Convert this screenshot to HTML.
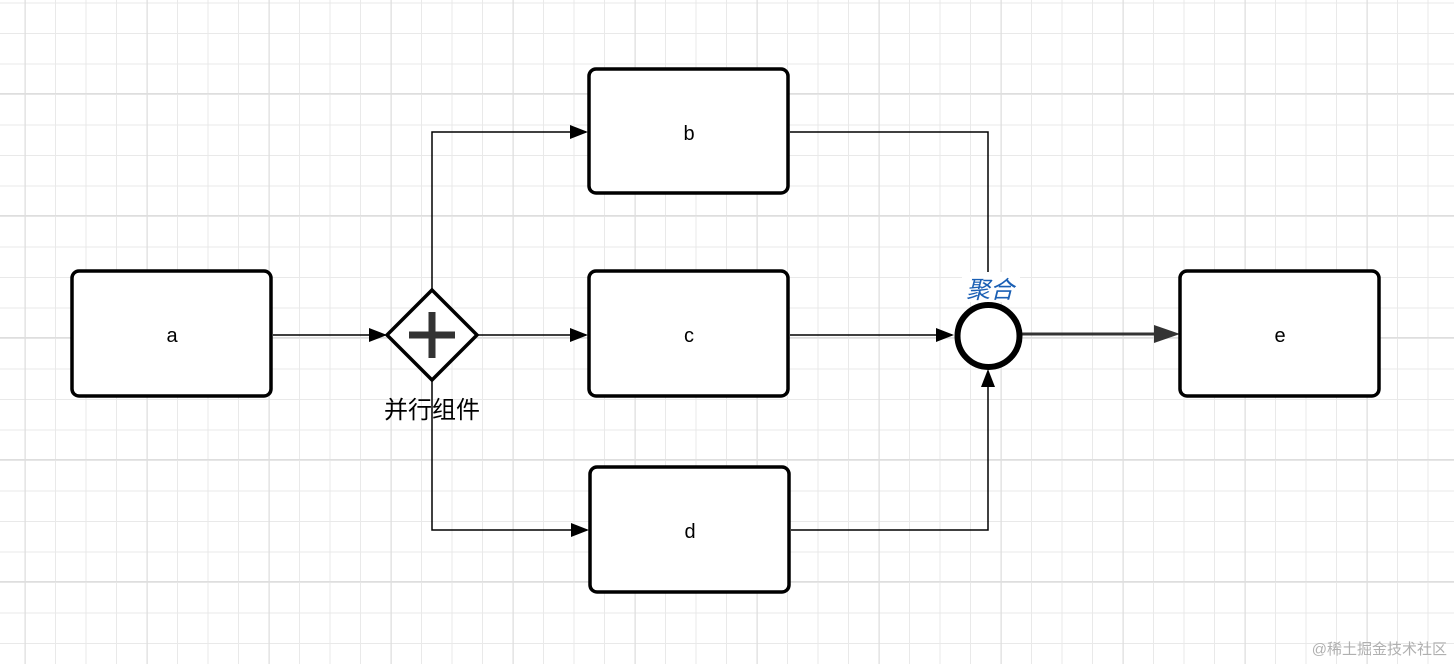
<!DOCTYPE html>
<html><head><meta charset="utf-8"><style>
body{margin:0;width:1454px;height:664px;overflow:hidden;background:#fff;}
svg{display:block}
text{font-family:"Liberation Sans","Noto Sans CJK SC",sans-serif;}
</style></head><body>
<svg width="1454" height="664" viewBox="0 0 1454 664" xmlns="http://www.w3.org/2000/svg">
<defs>
<pattern id="minor" x="24.5" y="2.5" width="30.5" height="30.5" patternUnits="userSpaceOnUse">
<path d="M0 0V30.5M0 0H30.5" stroke="#e9e9e9" stroke-width="2" fill="none"/>
</pattern>
<pattern id="major" x="24.5" y="93" width="122" height="122" patternUnits="userSpaceOnUse">
<path d="M0 0V122M0 0H122" stroke="#dedede" stroke-width="2.5" fill="none"/>
</pattern>
</defs>
<rect width="1454" height="664" fill="url(#minor)"/>
<rect width="1454" height="664" fill="url(#major)"/>
<g fill="none" stroke="#000" stroke-width="1.5">
<path d="M273 335H385"/>
<path d="M432 290V132H586"/>
<path d="M478 335H586"/>
<path d="M432 380V530H587"/>
<path d="M790 132H988V303"/>
<path d="M790 335H952"/>
<path d="M791 530H988V372"/>
</g>
<g fill="#000">
<path d="M387 335l-18-7v14z"/>
<path d="M588 132l-18-7v14z"/>
<path d="M588 335l-18-7v14z"/>
<path d="M589 530l-18-7v14z"/>
<path d="M954 335l-18-7v14z"/>
<path d="M988 369l-7 18h14z"/>
</g>
<path d="M1022 334H1160" stroke="#333" stroke-width="3"/>
<path d="M1180 334l-26-9v18z" fill="#333"/>
<g fill="#fff" stroke="#000" stroke-width="3.5">
<rect x="72" y="271" width="199" height="125" rx="7"/>
<rect x="589" y="69" width="199" height="124" rx="7"/>
<rect x="589" y="271" width="199" height="125" rx="7"/>
<rect x="590" y="467" width="199" height="125" rx="7"/>
<rect x="1180" y="271" width="199" height="125" rx="7"/>
</g>
<path d="M432 290L477 335L432 380L387 335z" fill="#fff" stroke="#000" stroke-width="3.5"/>
<path d="M432 312V358M409 335H455" stroke="#333" stroke-width="7"/>
<circle cx="988.5" cy="336" r="31" fill="#fff" stroke="#000" stroke-width="6"/>
<rect x="962" y="272" width="58" height="30" fill="#fff"/>
<text x="990" y="298" font-size="24" fill="#1a5fb4" text-anchor="middle" font-style="italic">聚合</text>
<text x="432" y="418" font-size="24" fill="#000" text-anchor="middle">并行组件</text>
<g font-size="20" text-anchor="middle" fill="#000">
<text x="172" y="342">a</text>
<text x="689" y="140">b</text>
<text x="689" y="342">c</text>
<text x="690" y="538">d</text>
<text x="1280" y="342">e</text>
</g>
<text x="1447" y="654" font-size="15" fill="#b0b0b0" text-anchor="end">@稀土掘金技术社区</text>
</svg>
</body></html>
